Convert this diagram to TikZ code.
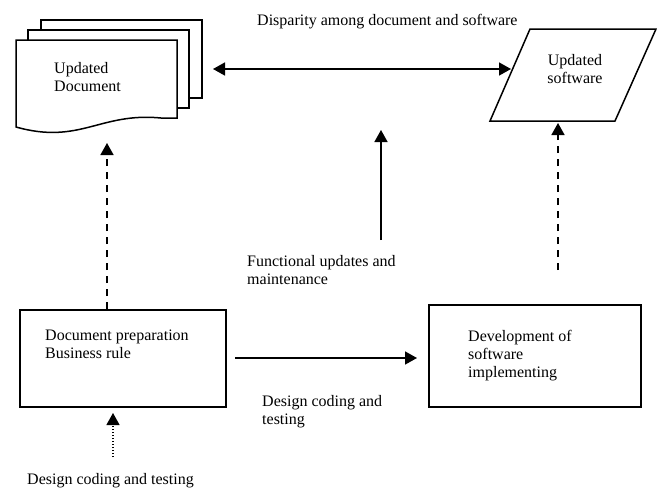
\documentclass[tikz,border=0pt]{standalone}
\usepackage{fontspec}
\setmainfont{Liberation Serif}
\usetikzlibrary{arrows.meta}
\begin{document}
\begin{tikzpicture}[x=1pt,y=-1pt,
  font=\fontsize{16}{18}\selectfont,
  shapeline/.style={line width=1.5pt,fill=white},
  lbl/.style={anchor=base west,inner sep=0pt,align=left},
  conn/.style={line width=1.6pt,-{Triangle[length=12pt,width=13pt]}},
  dashconn/.style={conn,dash pattern=on 7pt off 6pt},
  dotconn/.style={line width=1.2pt,dash pattern=on 1.5pt off 1.5pt,-{Triangle[length=12pt,width=13pt]}}]
\useasboundingbox (0,0) rectangle (657,488);

% document stack
\draw[shapeline] (41,20) rectangle (202,98);
\draw[shapeline] (28,30) rectangle (189,108);
\draw[shapeline] (16,40) -- (177,40) -- (177,118) -- (161,118)
  .. controls (100,112) and (80,145) .. (16,127) -- cycle;
\node[lbl] (doc) at (54,91) {Updated\\Document};
\coordinate (docE) at (213,69);
\coordinate (docS) at (107,143);

% parallelogram
\draw[shapeline] (530,29) -- (656,29) -- (615,121) -- (490,121) -- cycle;
\node[align=center,inner sep=0pt,anchor=base] (sw) at (575,83) {Updated\\software};
\coordinate (swW) at (511,69);
\coordinate (swS) at (558,123);

% boxes
\node[draw,line width=1.5pt,minimum width=206pt,minimum height=97pt,anchor=north west,inner sep=0pt] (b1) at (19,309) {};
\node[lbl] (b1t) at (45,358) {Document preparation\\Business rule};
\node[draw,line width=1.5pt,minimum width=212pt,minimum height=102pt,anchor=north west,inner sep=0pt] (b2) at (428,304) {};
\node[lbl] (b2t) at (468,377) {Development of\\software\\implementing};

% labels
\node[lbl] (dis) at (257,25) {Disparity among document and software};
\node[lbl] (fun) at (247,284) {Functional updates and\\maintenance};
\node[lbl] (dcm) at (262,424) {Design coding and\\testing};
\node[lbl] (dcb) at (27,484) {Design coding and testing};

% free ends
\coordinate (funTop) at (381,130);
\coordinate (funBot) at (381,240);
\coordinate (h1) at (235,358);
\coordinate (h2) at (417,358);
\coordinate (swD) at (558,270);
\coordinate (dotB) at (113,457);
\coordinate (dotT) at (113,413);

% connectors
\draw[line width=1.6pt,{Triangle[length=12pt,width=13pt]}-{Triangle[length=12pt,width=13pt]}] (docE) -- (swW);
\draw[conn] (funBot) -- (funTop);
\draw[dashconn] (b1.north -| docS) -- (docS);
\draw[dashconn] (swD) -- (swS);
\draw[conn] (h1) -- (h2);
\draw[dotconn] (dotB) -- (dotT);
\end{tikzpicture}
\end{document}
